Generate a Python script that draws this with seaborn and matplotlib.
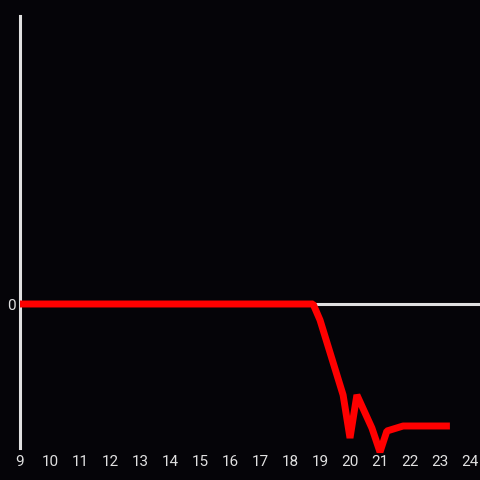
import matplotlib
matplotlib.use("Agg")
import matplotlib.pyplot as plt
import seaborn as sns
import pandas as pd

# data
hours = [9, 18.77, 19.0, 19.77, 20.0, 20.23, 20.73, 21.0, 21.23, 21.77, 23.33]
values = [0, 0, -1.6, -9.1, -13.4, -9.1, -12.4, -14.8, -12.7, -12.2, -12.2]
x_ticks = list(range(9, 25))

df = pd.DataFrame({"hour": hours, "value": values})

bg = "#050408"
fg = "#e0e0e0"

sns.set_style("dark")
plt.rcParams['font.family'] = ['Roboto', 'DejaVu Sans']

fig = plt.figure(figsize=(4.8, 4.8), dpi=100, facecolor=bg)
ax = fig.add_axes([20 / 480, 32 / 480, 460 / 480, 432 / 480])
ax.set_facecolor(bg)

# zero line
ax.axhline(0, color=fg, lw=2.2, zorder=1)

sns.lineplot(data=df, x="hour", y="value", ax=ax, color="#ff0000",
             lw=5, zorder=3, solid_joinstyle="bevel", solid_capstyle="butt",
             clip_on=False)

ax.set_xlim(9, 9 + 460 / 30)
ax.set_ylim(-14.4, 28.8)
ax.set_xticks(x_ticks)
ax.set_yticks([0])
ax.tick_params(length=0, colors=fg, labelsize=11, pad=5)
ax.tick_params(axis="y", pad=3)
ax.set_xlabel("")
ax.set_ylabel("")
ax.grid(False)

for s in ["top", "right", "bottom"]:
    ax.spines[s].set_visible(False)
ax.spines["left"].set_color(fg)
ax.spines["left"].set_linewidth(2.2)

fig.savefig("out.png", dpi=100, facecolor=bg)
